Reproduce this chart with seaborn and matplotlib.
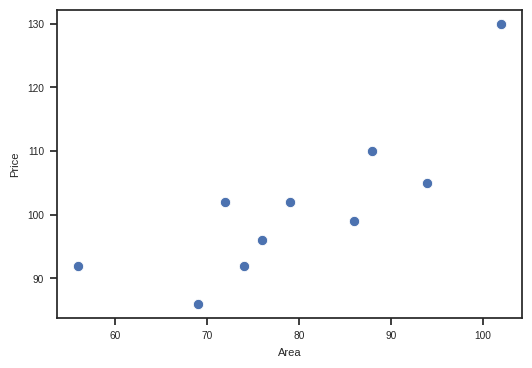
import matplotlib
matplotlib.use("Agg")
import matplotlib.pyplot as plt
import seaborn as sns
import pandas as pd

area = [56, 69, 72, 74, 76, 79, 86, 88, 94, 102]
price = [92, 86, 102, 92, 96, 102, 99, 110, 105, 130]

sns.set_theme(style="ticks", context="paper",
              rc={"axes.linewidth": 1.25, "xtick.major.width": 1.25,
                  "ytick.major.width": 1.25, "xtick.major.size": 5,
                  "ytick.major.size": 5,
                  "xtick.major.pad": 4.5, "ytick.major.pad": 4.5,
                  "axes.labelpad": 5,
                  "xtick.labelsize": 7.3, "ytick.labelsize": 7.3,
                  "axes.labelsize": 8})
plt.rcParams['font.family'] = ['Liberation Sans', 'DejaVu Sans']

df = pd.DataFrame({"Area": area, "Price": price})
fig, ax = plt.subplots(figsize=(6, 4), dpi=100)
sns.scatterplot(data=df, x="Area", y="Price", ax=ax, s=55)
fig.savefig("out.png", dpi=100, bbox_inches="tight")
